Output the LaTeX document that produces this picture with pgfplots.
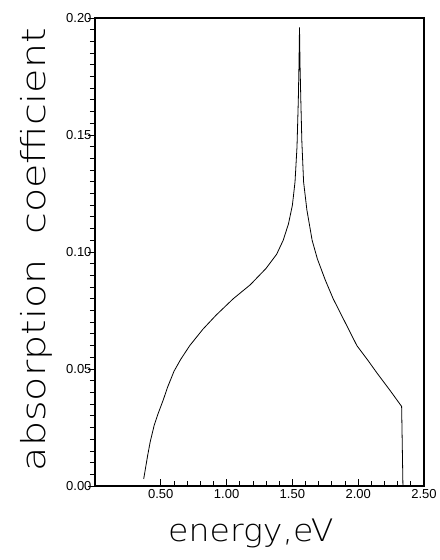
\documentclass[border=0pt]{standalone}
\usepackage{fontspec}
\setmainfont{Liberation Sans}
\newfontfamily\ylabelfont[FakeStretch=1.2]{DejaVu Sans ExtraLight}
\newfontfamily\xlabelfont[FakeStretch=1.07]{DejaVu Sans ExtraLight}
\usepackage{pgfplots}
\pgfplotsset{compat=1.18}

\begin{document}
\begin{tikzpicture}
\begin{axis}[
    scale only axis,
    width=329bp, height=468bp,
    xmin=0, xmax=2.5,
    ymin=0, ymax=0.2,
    xtick={0.5,1,1.5,2,2.5},
    extra x ticks={0}, extra x tick labels={},
    ytick={0,0.05,0.1,0.15,0.2},
    minor x tick num=4,
    minor y tick num=9,
    xtick pos=bottom, ytick pos=left,
    x tick style={/pgfplots/tick align=inside},
    y tick style={/pgfplots/tick align=outside},
    major tick length=7bp, minor tick length=5bp,
    tick style={black, line width=0.8bp},
    scaled y ticks=false, scaled x ticks=false,
    /pgf/number format/assume math mode=true,
    xticklabel style={/pgf/number format/.cd, fixed, fixed zerofill, precision=2},
    yticklabel style={/pgf/number format/.cd, fixed, fixed zerofill, precision=2},
    ticklabel style={font=\fontsize{13bp}{13bp}\selectfont},
    axis line style={line width=1.1bp},
    xlabel={\xlabelfont energy,eV},
    xlabel style={font=\fontsize{31bp}{31bp}\selectfont, at={(axis description cs:0.474,0)}, anchor=base, yshift=-55bp, inner sep=0pt},
    ylabel={\ylabelfont absorption\ \ coefficient},
    ylabel style={font=\fontsize{33bp}{33bp}\selectfont, at={(axis description cs:-0.228,0.505)}, anchor=north, inner sep=0pt},
]
\addplot[black, line width=0.8bp] coordinates {
    (0.37,0.003) (0.40,0.013) (0.42,0.019) (0.45,0.026) (0.48,0.031)
    (0.52,0.037) (0.55,0.042) (0.60,0.049) (0.65,0.054) (0.72,0.060)
    (0.82,0.067) (0.92,0.073) (1.05,0.080) (1.18,0.086) (1.30,0.093)
    (1.38,0.099) (1.43,0.105) (1.47,0.112) (1.50,0.120) (1.52,0.130)
    (1.535,0.145) (1.545,0.165) (1.550,0.180) (1.554,0.196) (1.558,0.180)
    (1.564,0.165) (1.572,0.147) (1.585,0.130) (1.61,0.118) (1.65,0.105)
    (1.69,0.097) (1.75,0.088) (1.81,0.080) (1.90,0.070) (1.99,0.060)
    (2.07,0.054) (2.14,0.0485) (2.24,0.041) (2.33,0.034) (2.34,0.0)
};
\end{axis}
\path (current axis.south west) ++(-95bp,-74bp) rectangle ([shift={(12bp,18bp)}]current axis.north east);
\end{tikzpicture}
\end{document}
